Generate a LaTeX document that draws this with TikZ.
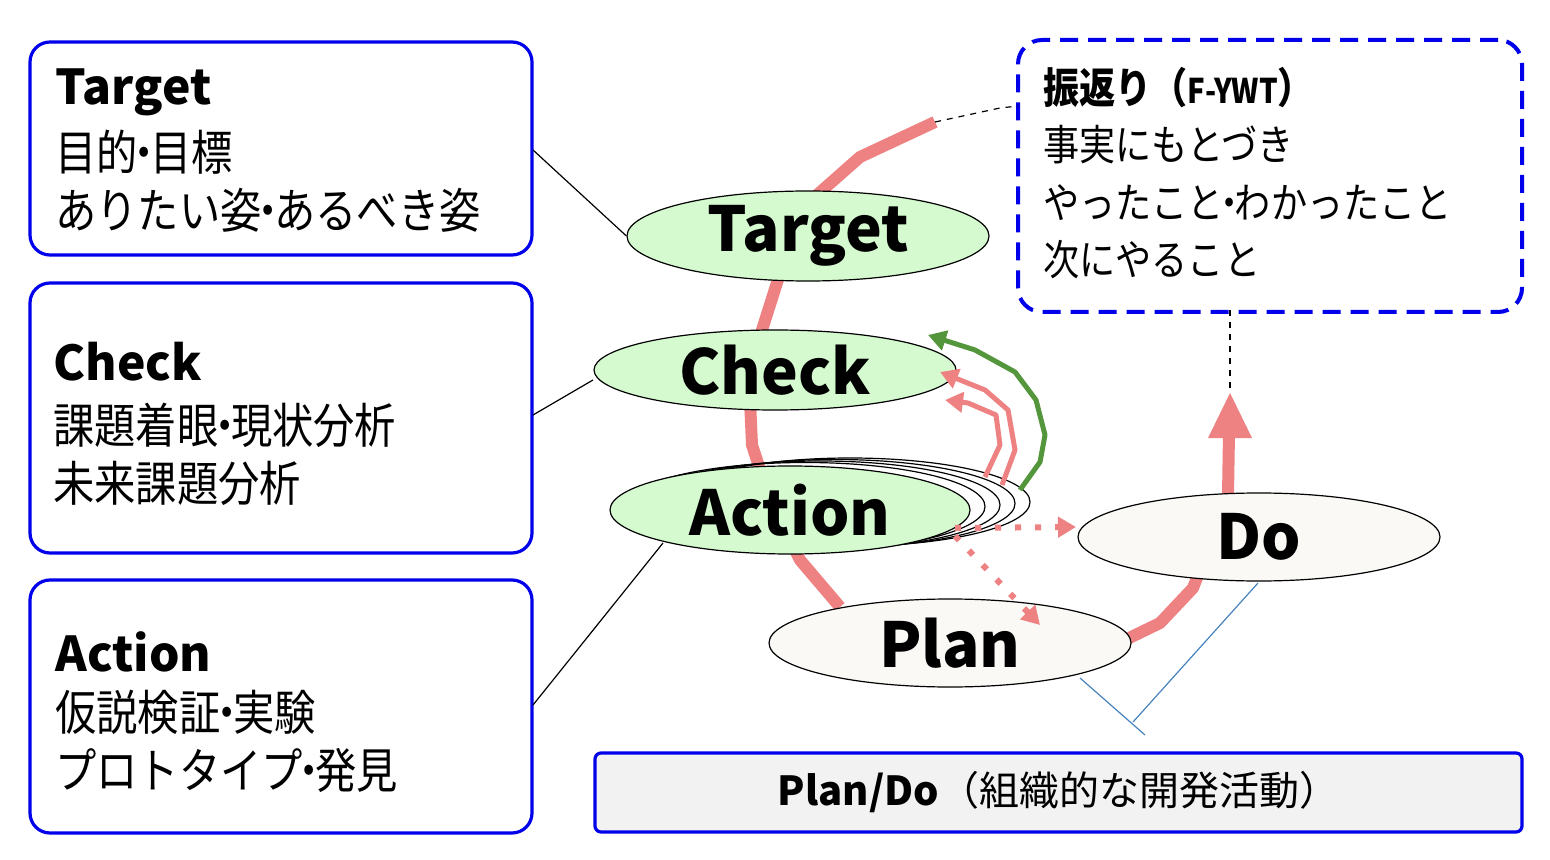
\documentclass[tikz,border=0pt]{standalone}
\usepackage{fontspec}
\setmainfont{Noto Sans CJK JP}
\newfontfamily\nar[FakeStretch=0.86]{Noto Sans CJK JP}
\newcommand{\dt}{\kern-0.3em・\kern-0.3em}
\usetikzlibrary{arrows.meta,shapes.geometric}
\definecolor{pk}{RGB}{238,130,130}
\definecolor{gr}{RGB}{84,150,60}
\definecolor{bl}{RGB}{0,0,235}
\definecolor{lg}{RGB}{214,250,208}
\definecolor{wt}{RGB}{250,249,245}
\definecolor{ln}{RGB}{70,130,190}
\begin{document}
\begin{tikzpicture}[x=0.5pt,y=-0.5pt,
 box/.style={draw=bl,line width=1.6pt,rounded corners=10pt},
 bt/.style={anchor=west,inner sep=0pt,font=\fontsize{24}{26}\selectfont\bfseries},
 jt/.style={anchor=west,inner sep=0pt,font=\nar\fontsize{21}{24}\selectfont},
 lt/.style={anchor=west,inner sep=0pt,font=\nar\fontsize{24}{26}\selectfont},
 el/.style={draw,ellipse,line width=0.6pt,inner sep=0pt,font=\fontsize{31}{34}\selectfont\bfseries},
 pth/.style={draw=pk,line width=6pt,line join=round},
 sm/.style={draw=pk,line width=2.5pt,-{Triangle[length=9pt,width=10pt]}},
]
\useasboundingbox (0,0) rectangle (1550,860);
% boxes
\node[box,minimum width=251pt,minimum height=106.5pt] (bT) at (281,148.5) {};
\node[box,minimum width=251pt,minimum height=135pt] (bC) at (281,418) {};
\node[box,minimum width=251pt,minimum height=126.5pt] (bA) at (281,706.5) {};
\node[draw=bl,line width=2pt,dash pattern=on 9pt off 5pt,rounded corners=12pt,minimum width=252pt,minimum height=136pt] (bF) at (1270,176) {};
\node[draw=bl,line width=1.6pt,fill=black!5,rounded corners=3pt,minimum width=463.5pt,minimum height=39.5pt] (bP) at (1058.5,792.5) {};
\node[font=\fontsize{20}{24}\selectfont] at (bP) {\textbf{Plan/Do}（組織的な開発活動）};
\node[bt] at (55,92) {Target};
\node[lt] at (55,152) {目的\dt 目標};
\node[lt] at (55,210) {ありたい姿\dt あるべき姿};
\node[bt] at (53,362) {Check};
\node[lt] at (53,425) {課題着眼\dt 現状分析};
\node[lt] at (53,483) {未来課題分析};
\node[bt] at (55,652) {Action};
\node[lt] at (55,712) {仮説検証\dt 実験};
\node[lt] at (55,770) {プロトタイプ\dt 発見};
\node[anchor=west,inner sep=0pt,font=\nar\fontsize{21}{24}\selectfont\bfseries] at (1043,88) {振返り（\fontsize{17}{20}\selectfont F-YWT\fontsize{21}{24}\selectfont）};
\node[jt] at (1043,145) {事実にもとづき};
\node[jt] at (1043,203) {やったこと\dt わかったこと};
\node[jt] at (1043,260) {次にやること};
% main path
\coordinate (p0) at (935,122);
\draw[pth] (p0)--(860,157)--(800,210)--(762,330)--(750,400)--(752,445)--(770,500)--(800,560)--(840,607);
\draw[pth] (1125,640)--(1160,623)--(1193,588)--(1200,570);
\draw[pth] (1228,495)--(1229,432);
\fill[pk] (1208,438)--(1252,438)--(1230,393)--cycle;
\coordinate (d0) at (1230,310); \coordinate (d1) at (1230,390);
\draw[dashed,line width=0.6pt] (d0)--(d1);
\coordinate (f0) at (1018,106);
\draw[dashed,line width=0.6pt] (p0)--(1000,108)--(f0);
% rings
\foreach \k in {4,3,2,1}{
 \draw[line width=0.6pt] ({790+\k*15},{508-\k*1.5}) ellipse (180 and 44);
}
% ellipses
\node[el,fill=lg,minimum width=181pt,minimum height=45pt] (T) at (808,236) {Target};
\node[el,fill=lg,minimum width=181pt,minimum height=40pt] (C) at (775,370) {Check};
\node[el,fill=lg,minimum width=180pt,minimum height=44pt] (A) at (790,510) {Action};
\node[el,fill=wt,minimum width=181pt,minimum height=44pt] (D) at (1259,537) {Do};
\node[el,fill=wt,minimum width=181pt,minimum height=44pt] (P) at (950,643) {Plan};
% small arrows
\draw[sm,line join=round] (985,477)--(1000,445)--(996,415)--(968,403)--(945,400);
\draw[sm,line join=round] (1002,485)--(1015,450)--(1008,410)--(985,390)--(940,372);
\draw[draw=gr,line width=2.5pt,line join=round,-{Triangle[length=9pt,width=10pt]}] (1020,490)--(1040,462)--(1045,435)--(1036,400)--(1015,372)--(975,350)--(928,335);
\draw[pk,line width=3pt,dash pattern=on 3pt off 7pt,-{Triangle[length=9pt,width=10pt]}] (955,528)--(1076,527);
\draw[pk,line width=3pt,dash pattern=on 3pt off 7pt,-{Triangle[length=9pt,width=10pt]}] (955,536)--(1040,625);
% connectors
\draw[line width=0.6pt] (533,150)--(T.west);
\draw[line width=0.6pt] (533,415)--(593,380);
\draw[line width=0.6pt] (533,705)--(663,543);
\draw[ln,line width=0.6pt] (1080,678)--(1145,735);
\draw[ln,line width=0.6pt] (1258,583)--(1133,722);
\end{tikzpicture}
\end{document}
